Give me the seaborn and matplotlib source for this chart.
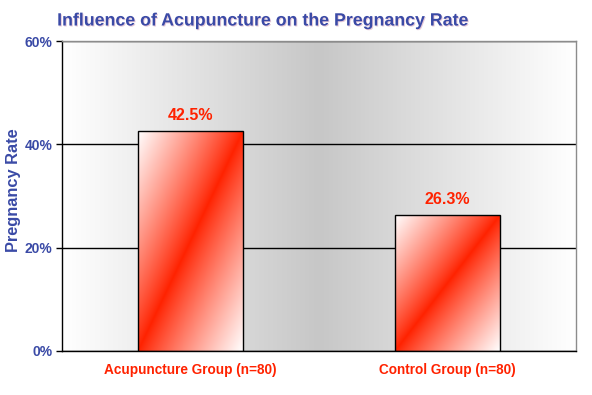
import matplotlib
matplotlib.use("Agg")
import matplotlib.pyplot as plt
import matplotlib.patheffects as pe
from matplotlib.ticker import PercentFormatter
import numpy as np
import pandas as pd
import seaborn as sns

GROUPS = ["Acupuncture Group (n=80)", "Control Group (n=80)"]
RATES = [42.5, 26.3]
LABELS = ["42.5%", "26.3%"]
Y_TICKS = [0, 20, 40, 60]

BLUE = "#3a4aa6"
RED = "#ff2200"


def bar_gradient(n=256):
    # red stripe along the bottom-left -> top-right diagonal, white in the other corners
    u, v = np.meshgrid(np.linspace(0, 1, n), np.linspace(0, 1, n))
    t = np.abs(u - v)[..., None] ** 0.9
    red = np.array(matplotlib.colors.to_rgb(RED))
    return red * (1 - t) + np.ones(3) * t


def bg_gradient(n=256):
    u = np.linspace(0, 1, n)
    g = 1 - 0.22 * (1 - np.abs(2 * u - 1))
    return np.repeat(np.stack([g, g, g], axis=-1)[None, :, :], 2, axis=0)


def main():
    sns.set_theme(style="white")
    plt.rcParams["font.family"] = ["Liberation Sans", "DejaVu Sans"]

    df = pd.DataFrame({"group": GROUPS, "rate": RATES})

    fig = plt.figure(figsize=(5.92, 3.95), dpi=100)
    ax = fig.add_axes([0.1047, 0.1114, 0.8682, 0.7848])

    sns.barplot(data=df, x="group", y="rate", ax=ax, width=0.405,
                color="white", edgecolor="black", linewidth=1, zorder=3)

    ax.imshow(bg_gradient(), extent=(0, 1, 0, 1), transform=ax.transAxes,
              aspect="auto", zorder=0)

    grad = bar_gradient()
    for patch in ax.patches:
        x0, y0 = patch.get_x(), patch.get_y()
        w, h = patch.get_width(), patch.get_height()
        im = ax.imshow(grad, extent=(x0, x0 + w, y0, y0 + h), origin="lower",
                       aspect="auto", zorder=2.5)
        im.set_clip_path(patch)
        patch.set_facecolor("none")

    ax.set_xlim(-0.5, 1.5)
    ax.set_ylim(0, 60)
    ax.set_yticks(Y_TICKS)
    ax.yaxis.set_major_formatter(PercentFormatter(decimals=0))
    ax.grid(axis="y", color="black", linewidth=1, zorder=1)
    ax.set_axisbelow(True)

    ax.set_xticks([0, 1])
    ax.set_xticklabels(GROUPS)
    ax.set_xticks([-0.5, 0.5, 1.5], minor=True)
    ax.tick_params(axis="x", which="major", length=0, pad=9,
                   labelsize=9.8, labelcolor=RED)
    ax.tick_params(axis="x", which="minor", length=4, direction="out",
                   color="black", width=1)
    ax.tick_params(axis="y", length=4, direction="out", color="black", width=1,
                   labelsize=10, labelcolor=BLUE, left=True, pad=3)
    for lbl in ax.get_xticklabels() + ax.get_yticklabels():
        lbl.set_fontweight("bold")

    ax.set_xlabel("")
    ax.set_ylabel("Pregnancy Rate", color=BLUE, fontsize=11.8, fontweight="bold")
    ax.yaxis.set_label_coords(-0.08, 0.52)

    for side in ["left", "bottom"]:
        ax.spines[side].set_color("black")
        ax.spines[side].set_linewidth(1)
    for side in ["top", "right"]:
        ax.spines[side].set_color("#8c8c8c")
        ax.spines[side].set_linewidth(1)
    for sp in ax.spines.values():
        sp.set_zorder(4)

    ax.bar_label(ax.containers[0], labels=LABELS, padding=6, color=RED,
                 fontsize=11.5, fontweight="bold")

    fig.text(263 / 592, 1 - 21 / 395, "Influence of Acupuncture on the Pregnancy Rate",
             ha="center", va="center", color=BLUE, fontsize=12.8, fontweight="bold",
             path_effects=[pe.withSimplePatchShadow(offset=(0.7, -0.7),
                                                    shadow_rgbFace="#b05080", alpha=0.3)])

    fig.savefig("out.png", dpi=100)
    plt.close(fig)


if __name__ == "__main__":
    main()
